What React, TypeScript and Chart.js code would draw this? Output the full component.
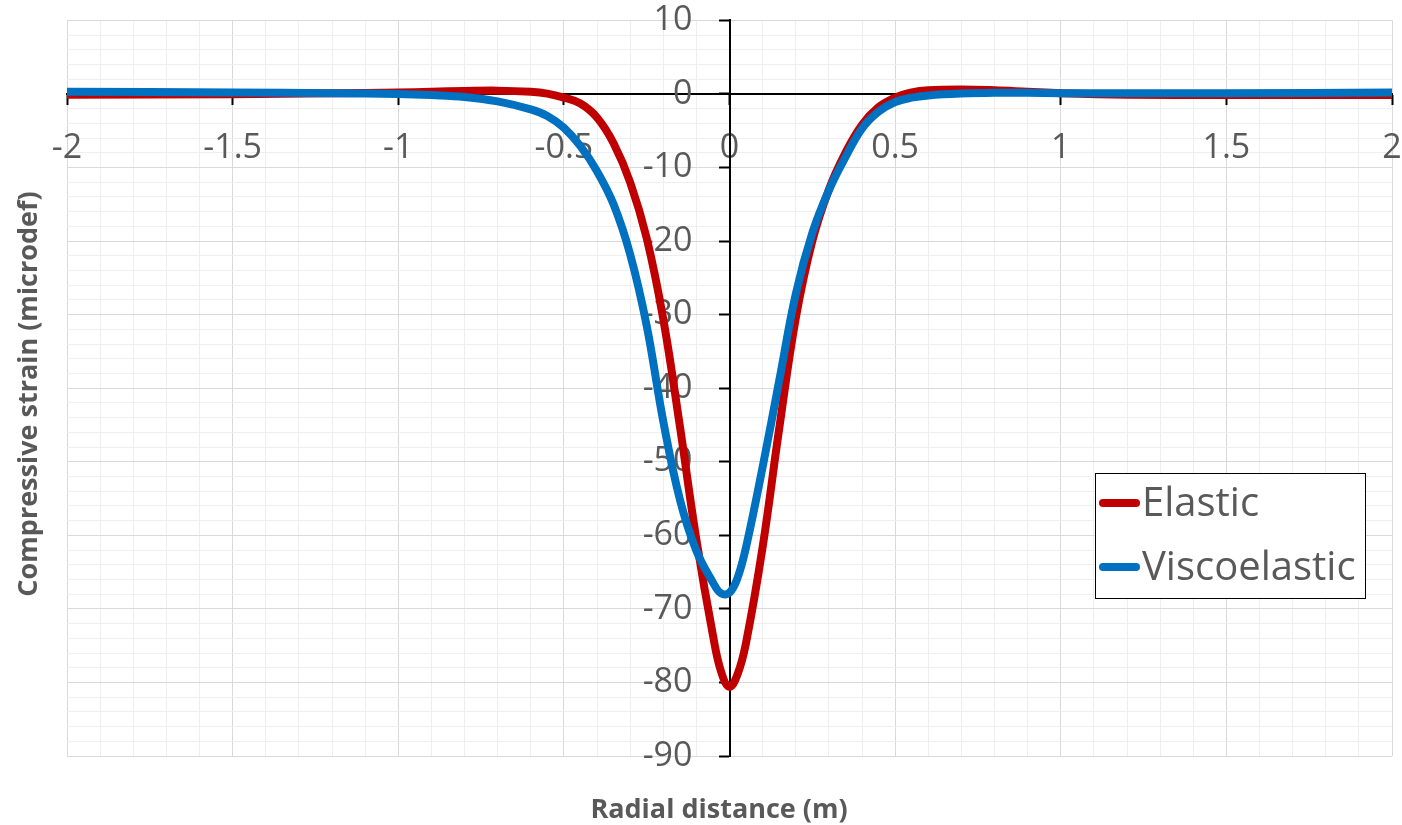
import React, { useEffect, useRef } from 'react';
import { Chart, registerables, LinearScale } from 'chart.js';

// ---------------- data ----------------
const radialDistance = [
  -2, -1.5, -1.2, -1, -0.9, -0.8, -0.7, -0.6, -0.55, -0.5,
  -0.45, -0.4, -0.35, -0.3, -0.25, -0.2, -0.15, -0.1, -0.05, -0.025,
  0, 0.025, 0.05, 0.1, 0.15, 0.2, 0.25, 0.3, 0.35, 0.4,
  0.45, 0.5, 0.55, 0.6, 0.7, 0.8, 0.9, 1, 1.2, 1.5, 2,
];
const elasticStrain = [
  -0.1, -0.05, 0.1, 0.2, 0.3, 0.4, 0.45, 0.3, 0.05, -0.5,
  -1.3, -3.2, -6.7, -12, -19.6, -30.6, -45.1, -60.6, -73.6, -78.6,
  -80.6, -78.8, -74.6, -61.6, -45.5, -30.5, -20, -13, -8, -4.2,
  -1.8, -0.5, 0.2, 0.5, 0.6, 0.5, 0.3, 0.1, -0.1, -0.15, -0.15,
];
const viscoelasticStrain = [
  0.3, 0.2, 0.1, 0.0, -0.15, -0.4, -1.0, -2.1, -3.0, -4.6,
  -7.1, -10.5, -15, -21.8, -31.5, -44.5, -55.1, -62.1, -66.4, -67.9,
  -67.8, -65.7, -61.6, -50.7, -39, -27.2, -18.9, -13.1, -8.6, -4.7,
  -2.4, -1.1, -0.5, -0.2, 0.05, 0.15, 0.15, 0.1, 0.1, 0.1, 0.2,
];
const seriesLabels = ['Elastic', 'Viscoelastic'];
const seriesColors = ['#C00000', '#0070C0'];
const xTitle = 'Radial distance (m)';
const yTitle = 'Compressive strain (microdef)';
const xRange = [-2, 2];
const yRange = [-90, 10];
const xMajorStep = 0.5;
const xMinorStep = 0.1;
const yMajorStep = 10;
const yMinorStep = 2;

// ---------------- styling ----------------
const TEXT_COLOR = '#595959';
const FONT = '"Open Sans", "Noto Sans", sans-serif';
const Y_LABEL_SHIFT = -37;
const X_LABEL_SHIFT = 24;

class CrossAxisScale extends LinearScale {
  static id = 'crossLinear';
  static defaults = LinearScale.defaults;
  _computeLabelItems(chartArea: any) {
    const items = (super._computeLabelItems as any)(chartArea);
    const isY = (this as any).axis === 'y';
    items.forEach((it: any) => {
      if (isY) it.options.translation[0] += Y_LABEL_SHIFT;
      else it.options.translation[1] += X_LABEL_SHIFT;
    });
    return items;
  }
}

Chart.register(...registerables, CrossAxisScale);

const isMultiple = (v: number, step: number) =>
  Math.abs(v / step - Math.round(v / step)) < 1e-6;
const fmt = (v: number) => String(Math.round(v * 10) / 10);

const overlayPlugin = {
  id: 'overlay',
  afterDraw(chart: any) {
    const ctx = chart.ctx as CanvasRenderingContext2D;
    ctx.save();
    ctx.fillStyle = TEXT_COLOR;
    ctx.font = `bold 27px ${FONT}`;
    ctx.textAlign = 'center';
    ctx.textBaseline = 'alphabetic';
    ctx.fillText(xTitle, 719, 818);
    ctx.save();
    ctx.translate(37, 394);
    ctx.rotate(-Math.PI / 2);
    ctx.fillText(yTitle, 0, 0);
    ctx.restore();

    // legend
    const bx = 1095, by = 473, bw = 270, bh = 125;
    ctx.fillStyle = '#ffffff';
    ctx.fillRect(bx, by, bw, bh);
    ctx.strokeStyle = '#000000';
    ctx.lineWidth = 1;
    ctx.strokeRect(bx + 0.5, by + 0.5, bw, bh);
    const rows = [503, 567];
    ctx.font = `40px ${FONT}`;
    ctx.textAlign = 'left';
    ctx.textBaseline = 'middle';
    chart.data.datasets.forEach((ds: any, i: number) => {
      const y = rows[i];
      ctx.strokeStyle = ds.borderColor;
      ctx.lineWidth = 8;
      ctx.lineCap = 'round';
      ctx.beginPath();
      ctx.moveTo(1103, y);
      ctx.lineTo(1136, y);
      ctx.stroke();
      ctx.fillStyle = TEXT_COLOR;
      ctx.fillText(ds.label, 1142, y + 2);
    });
    ctx.restore();
  },
};

export default function App() {
  const canvasRef = useRef<HTMLCanvasElement | null>(null);

  useEffect(() => {
    if (!canvasRef.current) return;
    const toPoints = (ys: number[]) => radialDistance.map((x, i) => ({ x, y: ys[i] }));
    const lineStyle = {
      borderWidth: 8,
      pointRadius: 0,
      tension: 0.4,
      borderJoinStyle: 'round',
    };
    const chart = new Chart(canvasRef.current, {
      type: 'line',
      data: {
        datasets: [
          {
            label: seriesLabels[0],
            data: toPoints(elasticStrain),
            borderColor: seriesColors[0],
            backgroundColor: seriesColors[0],
            ...lineStyle,
            order: 1,
          },
          {
            label: seriesLabels[1],
            data: toPoints(viscoelasticStrain),
            borderColor: seriesColors[1],
            backgroundColor: seriesColors[1],
            ...lineStyle,
            order: 0,
          },
        ],
      },
      options: {
        animation: false,
        responsive: false,
        devicePixelRatio: 1,
        layout: { padding: { left: 67, right: 10, top: 20, bottom: 69 } },
        plugins: { legend: { display: false }, tooltip: { enabled: false } },
        scales: {
          x: {
            type: 'crossLinear',
            axis: 'x',
            position: { y: 0 },
            min: xRange[0],
            max: xRange[1],
            ticks: {
              stepSize: xMinorStep,
              autoSkip: false,
              maxRotation: 0,
              minRotation: 0,
              padding: 0,
              color: TEXT_COLOR,
              font: { family: FONT, size: 34 },
              callback: (v: any) => (isMultiple(Number(v), xMajorStep) ? fmt(Number(v)) : ''),
            },
            grid: {
              color: (c: any) => (isMultiple(c.tick.value, xMajorStep) ? '#d9d9d9' : '#efefef'),
              tickColor: (c: any) => (isMultiple(c.tick.value, xMajorStep) ? '#000000' : 'rgba(0,0,0,0)'),
              tickLength: 10,
              tickWidth: 2,
              lineWidth: 1,
            },
            border: { color: '#000000', width: 2 },
          },
          y: {
            type: 'crossLinear',
            axis: 'y',
            position: { x: 0 },
            min: yRange[0],
            max: yRange[1],
            ticks: {
              stepSize: yMinorStep,
              autoSkip: false,
              padding: 0,
              color: TEXT_COLOR,
              font: { family: FONT, size: 34 },
              callback: (v: any) => (isMultiple(Number(v), yMajorStep) ? fmt(Number(v)) : ''),
            },
            grid: {
              color: (c: any) => (isMultiple(c.tick.value, yMajorStep) ? '#d9d9d9' : '#efefef'),
              tickColor: (c: any) => (isMultiple(c.tick.value, yMajorStep) ? '#000000' : 'rgba(0,0,0,0)'),
              tickLength: 10,
              tickWidth: 2,
              lineWidth: 1,
            },
            border: { color: '#000000', width: 2 },
          },
        },
      } as any,
      plugins: [overlayPlugin],
    });
    return () => chart.destroy();
  }, []);

  return (
    <div style={{ position: 'absolute', left: 0, top: 0, width: 1402, height: 825, background: '#ffffff' }}>
      <canvas ref={canvasRef} width={1402} height={825} style={{ width: 1402, height: 825, display: 'block' }} />
    </div>
  );
}
